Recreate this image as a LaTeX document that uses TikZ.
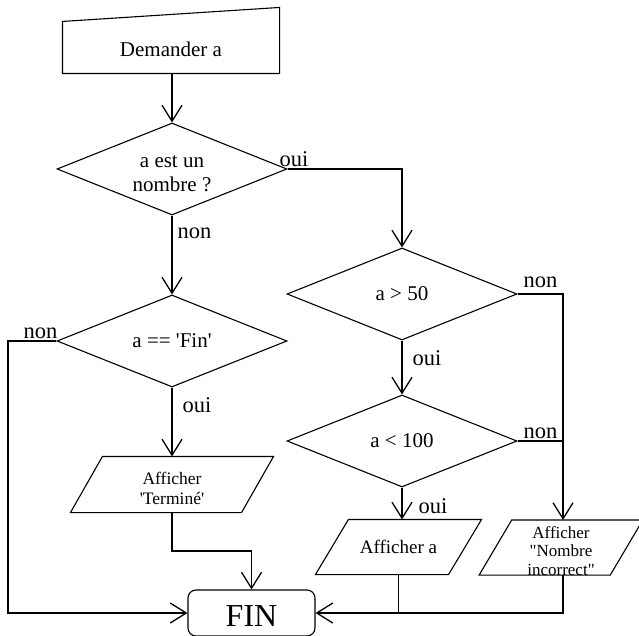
\documentclass[tikz,border=0pt]{standalone}
\usepackage{fontspec}
\setmainfont{Liberation Serif}
\usetikzlibrary{shapes.geometric,arrows.meta,calc}
\begin{document}
\begin{tikzpicture}[x=1pt,y=-1pt,
  line width=1.1pt,
  >={Straight Barb[length=16pt,width=20pt]},
  dec/.style={diamond,draw,aspect=2.5,inner sep=0pt,minimum width=230pt,minimum height=92pt,align=center,font=\fontsize{21}{24}\selectfont},
  txt/.style={inner sep=0pt,align=center},
  lbl/.style={anchor=base west,inner sep=0pt,font=\fontsize{22.5}{24}\selectfont},
  conn/.style={line width=1.3pt},
]
\useasboundingbox (0,0) rectangle (639,636);
% manual input
\node[txt,minimum width=216pt,minimum height=51pt,text height=18.3pt,text depth=0pt,font=\fontsize{21}{24}\selectfont] (ask) at (171,47.5) {Demander a};
\draw (ask.north west) -- (ask.south west) -- (ask.south east) -- ($(ask.north east)+(0,-14)$) -- cycle;
% decisions
\node[dec] (d1) at (172,169) {};
\node[txt,font=\fontsize{21}{24}\selectfont] (d1t) at ($(d1.center)+(0,5)$) {a est un\\nombre ?};
\node[dec] (d3) at (172,341) {a == \textquotesingle Fin\textquotesingle};
\node[dec] (d2) at (402,294) {a > 50};
\node[dec] (d4) at (402,441) {a < 100};
% outputs
\node[txt,minimum width=170pt,minimum height=55pt] (p1) at (172,484.5) {};
\node[txt,font=\fontsize{17.5}{20}\selectfont] (p1t) at ($(p1.center)+(0,3.5)$) {Afficher\\\textquotesingle Terminé\textquotesingle};
\draw ($(p1.north west)+(16,0)$) -- ($(p1.north east)+(16,0)$) -- ($(p1.south east)+(-16,0)$) -- ($(p1.south west)+(-16,0)$) -- cycle;
\node[txt,minimum width=132pt,minimum height=54pt,font=\fontsize{19}{22}\selectfont] (p2) at (398.5,547) {Afficher a};
\draw ($(p2.north west)+(16.5,0)$) -- ($(p2.north east)+(16.5,0)$) -- ($(p2.south east)+(-16.5,0)$) -- ($(p2.south west)+(-16.5,0)$) -- cycle;
\node[txt,minimum width=130pt,minimum height=54pt] (p3) at (561,547.5) {};
\node[txt,font=\fontsize{17}{18.5}\selectfont] (p3t) at ($(p3.center)+(0,3.5)$) {Afficher\\\textquotedbl Nombre\\incorrect\textquotedbl};
\draw ($(p3.north west)+(16.3,0)$) -- ($(p3.north east)+(16.3,0)$) -- ($(p3.south east)+(-16.3,0)$) -- ($(p3.south west)+(-16.3,0)$) -- cycle;
% end
\node[draw,rounded corners=8pt,minimum width=127pt,minimum height=46pt,inner sep=0pt,text height=27.5pt,text depth=0pt,font=\fontsize{32}{36}\selectfont] (fin) at (251.5,613) {FIN};
% helper coordinates
\coordinate (c1) at (8,341);
\coordinate (c2) at (172,551);
\coordinate (c3) at (563,294);
% connectors
\draw[conn,->] (d1.north |- ask.south) -- (d1.north);
\draw[conn,->] (d1.east) -- (d1.east -| d2.north) -- (d2.north);
\draw[conn,->] (d1.south) -- (d3.north);
\draw[conn,->] (d3.west) -- (c1) |- (fin.west);
\draw[conn,->] (d3.south) -- (p1.north);
\draw[conn,->] (p1.south) -- (c2) -| (fin.north);
\draw[conn,->] (d2.south) -- (d4.north);
\draw[conn,->] (d2.east) -- (c3) -- (c3 |- p3.north);
\draw[conn] (d4.east) -- (d4.east -| c3);
\draw[conn,->] (d4.south) -- (d4.south |- p2.north);
\draw[conn] (p2.south) -- (p2.south |- fin.east);
\draw[conn,->] (c3 |- p3.south) -- (c3 |- fin.east) -- (fin.east);
% labels
\node[lbl] (l1) at (279,167) {oui};
\node[lbl] (l2) at (177,238) {non};
\node[lbl] (l3) at (23,338) {non};
\node[lbl] (l4) at (182,412) {oui};
\node[lbl] (l5) at (523,287) {non};
\node[lbl] (l6) at (412,365) {oui};
\node[lbl] (l7) at (523,438) {non};
\node[lbl] (l8) at (418,513) {oui};
\end{tikzpicture}
\end{document}
